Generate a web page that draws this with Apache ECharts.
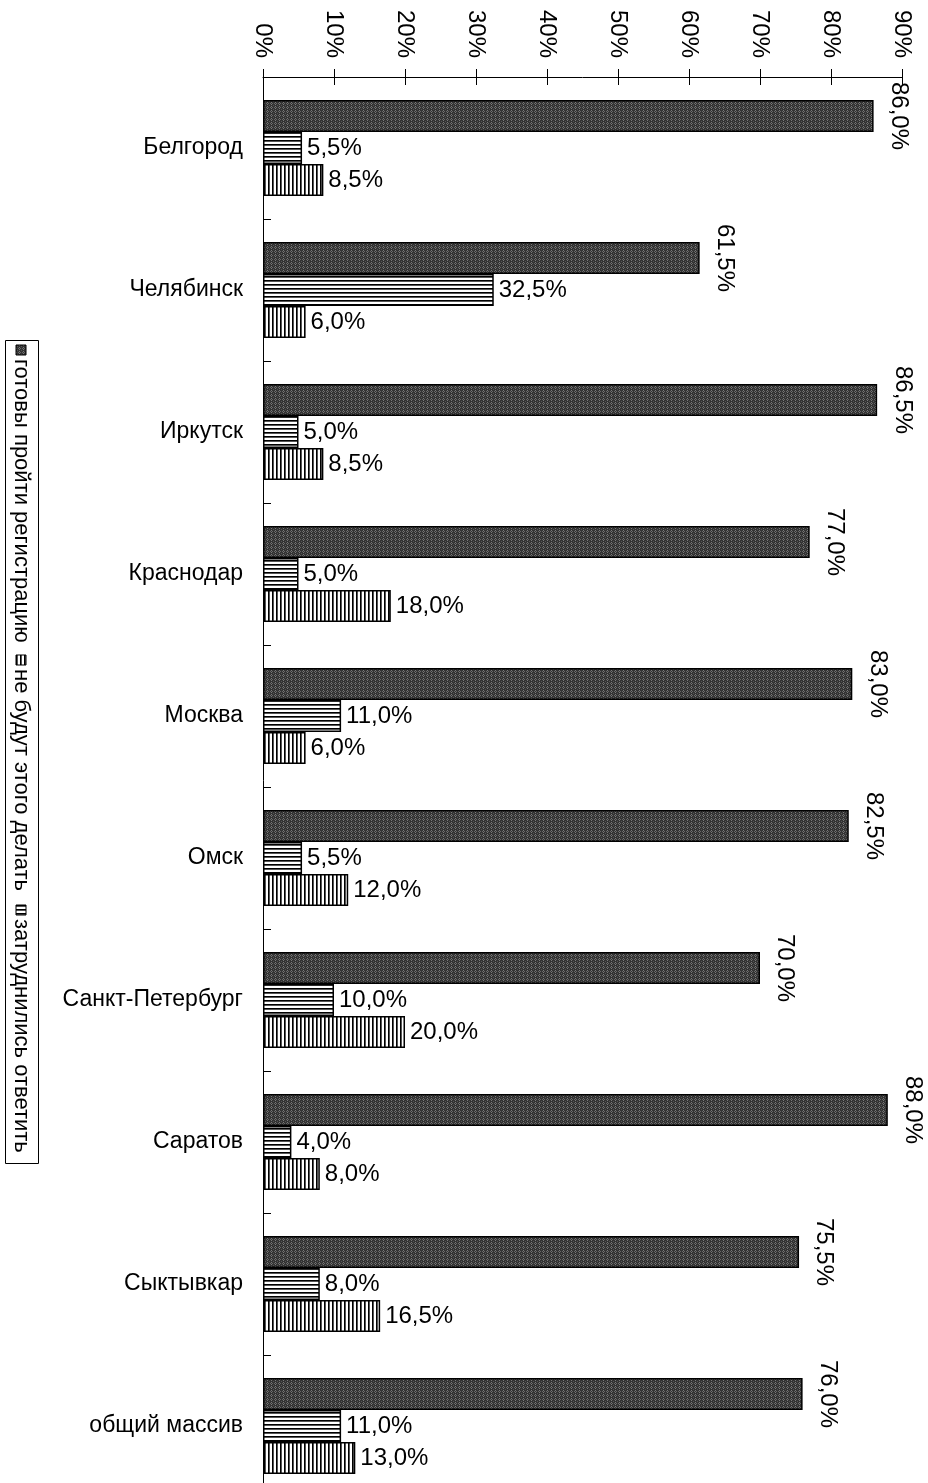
<!DOCTYPE html>
<html>
<head>
<meta charset="utf-8">
<script src="https://cdn.jsdelivr.net/npm/echarts@6/dist/echarts.min.js"></script>
<style>
  html, body { margin: 0; padding: 0; background: #fff; }
  #chart { width: 928px; height: 1483px; }
</style>
</head>
<body>
<div id="chart"></div>
<script>
// Survey results by city (share of respondents, %)
const cities = ['Белгород', 'Челябинск', 'Иркутск', 'Краснодар', 'Москва', 'Омск',
  'Санкт-Петербург', 'Саратов', 'Сыктывкар', 'общий массив'];
const seriesNames = ['готовы пройти регистрацию', 'не будут этого делать', 'затруднились ответить'];
const ready    = [86.0, 61.5, 86.5, 77.0, 83.0, 82.5, 70.0, 88.0, 75.5, 76.0];
const refuse   = [5.5, 32.5, 5.0, 5.0, 11.0, 5.5, 10.0, 4.0, 8.0, 11.0];
const undecided = [8.5, 6.0, 8.5, 18.0, 6.0, 12.0, 20.0, 8.0, 16.5, 13.0];
const axisMin = 0, axisMax = 90, axisStep = 10;

const FONT = '"Liberation Sans", Arial, sans-serif';

// Hatch fills drawn on small tiles
function tile(w, h, draw) {
  const c = document.createElement('canvas');
  c.width = w; c.height = h;
  const ctx = c.getContext('2d');
  draw(ctx);
  return c;
}
const darkTile = tile(4, 4, ctx => {
  ctx.fillStyle = '#333'; ctx.fillRect(0, 0, 4, 4);
  ctx.fillStyle = '#7a7a7a'; ctx.fillRect(3, 0, 1, 1); ctx.fillRect(3, 2, 1, 1);
  ctx.fillStyle = '#666'; ctx.fillRect(0, 3, 1, 1); ctx.fillRect(2, 3, 1, 1);
  ctx.fillStyle = '#555'; ctx.fillRect(1, 1, 1, 1);
});
const hTile = tile(4, 4, ctx => {
  ctx.fillStyle = '#fff'; ctx.fillRect(0, 0, 4, 4);
  ctx.fillStyle = '#000'; ctx.fillRect(0, 0, 4, 1);
  ctx.fillStyle = '#555'; ctx.fillRect(0, 1, 4, 1);
});
const vTile = tile(4, 4, ctx => {
  ctx.fillStyle = '#fff'; ctx.fillRect(0, 0, 4, 4);
  ctx.fillStyle = '#000'; ctx.fillRect(0, 0, 1, 4);
  ctx.fillStyle = '#555'; ctx.fillRect(1, 0, 1, 4);
});
const fills = [
  { image: darkTile, repeat: 'repeat' },
  { image: hTile, repeat: 'repeat' },
  { image: vTile, repeat: 'repeat' }
];
// legend icons show the hatch turned with the legend
const legendFills = [
  { image: darkTile, repeat: 'repeat' },
  { image: vTile, repeat: 'repeat' },
  { image: hTile, repeat: 'repeat' }
];

const fmt = v => v.toFixed(1).replace('.', ',') + '%';

function barSeries(i, data) {
  const label = i === 0
    ? { show: true, position: 'right', distance: 25, rotate: -90, align: 'center', verticalAlign: 'middle',
        fontSize: 24, fontFamily: FONT, color: '#000', formatter: p => fmt(p.value) }
    : { show: true, position: 'right', distance: 5,
        fontSize: 24, fontFamily: FONT, color: '#000', formatter: p => fmt(p.value) };
  return {
    name: seriesNames[i],
    type: 'bar',
    xAxisIndex: 0,
    yAxisIndex: 0,
    data: data,
    barWidth: 32,
    barGap: '0%',
    itemStyle: { color: fills[i], borderColor: '#000', borderWidth: 1.5 },
    label: label,
    emphasis: { disabled: true }
  };
}

// Legend: a framed box with text running top to bottom
const legendItems = [
  { y: 345, text: seriesNames[0] },
  { y: 655, text: seriesNames[1] },
  { y: 905, text: seriesNames[2] }
];
const legendGraphics = [{
  type: 'rect', left: 5, top: 340,
  shape: { width: 33, height: 823 },
  style: { fill: '#fff', stroke: '#000', lineWidth: 1 }
}];
legendItems.forEach((it, i) => {
  legendGraphics.push({
    type: 'rect', x: 16, y: it.y,
    shape: { width: 10, height: 10 },
    style: { fill: legendFills[i], stroke: '#000', lineWidth: 1 }
  });
  legendGraphics.push({
    type: 'text', x: 21, y: it.y + 14, rotation: -Math.PI / 2,
    style: { text: it.text, fontSize: 22, fontFamily: FONT, fill: '#000',
             textAlign: 'left', textVerticalAlign: 'middle' }
  });
});

const chart = echarts.init(document.getElementById('chart'), null, { renderer: 'canvas' });
chart.setOption({
  animation: false,
  backgroundColor: '#fff',
  grid: { left: 263, top: 77, right: 26, height: 1420, containLabel: false, outerBoundsMode: 'none' },
  xAxis: [{
    type: 'value', position: 'top', min: axisMin, max: axisMax, interval: axisStep,
    axisLine: { show: true, lineStyle: { color: '#000', width: 1 } },
    axisTick: { show: true, inside: false, length: 8, lineStyle: { color: '#000' } },
    axisLabel: { rotate: 90, margin: 19, fontSize: 24, fontFamily: FONT, color: '#000',
                 formatter: v => v + '%' },
    splitLine: { show: false }
  }, {
    type: 'value', position: 'top', min: axisMin, max: axisMax, interval: axisStep,
    axisLine: { show: false },
    axisTick: { show: true, inside: true, length: 8, lineStyle: { color: '#000' } },
    axisLabel: { show: false },
    splitLine: { show: false }
  }],
  yAxis: {
    type: 'category', inverse: true, data: cities,
    axisLine: { show: true, lineStyle: { color: '#000', width: 1 } },
    axisTick: { show: true, inside: true, length: 8, interval: 0, lineStyle: { color: '#000' } },
    axisLabel: { margin: 20, fontSize: 23, fontFamily: FONT, color: '#000' },
    splitLine: { show: false }
  },
  series: [barSeries(0, ready), barSeries(1, refuse), barSeries(2, undecided)],
  graphic: legendGraphics
});
</script>
</body>
</html>
